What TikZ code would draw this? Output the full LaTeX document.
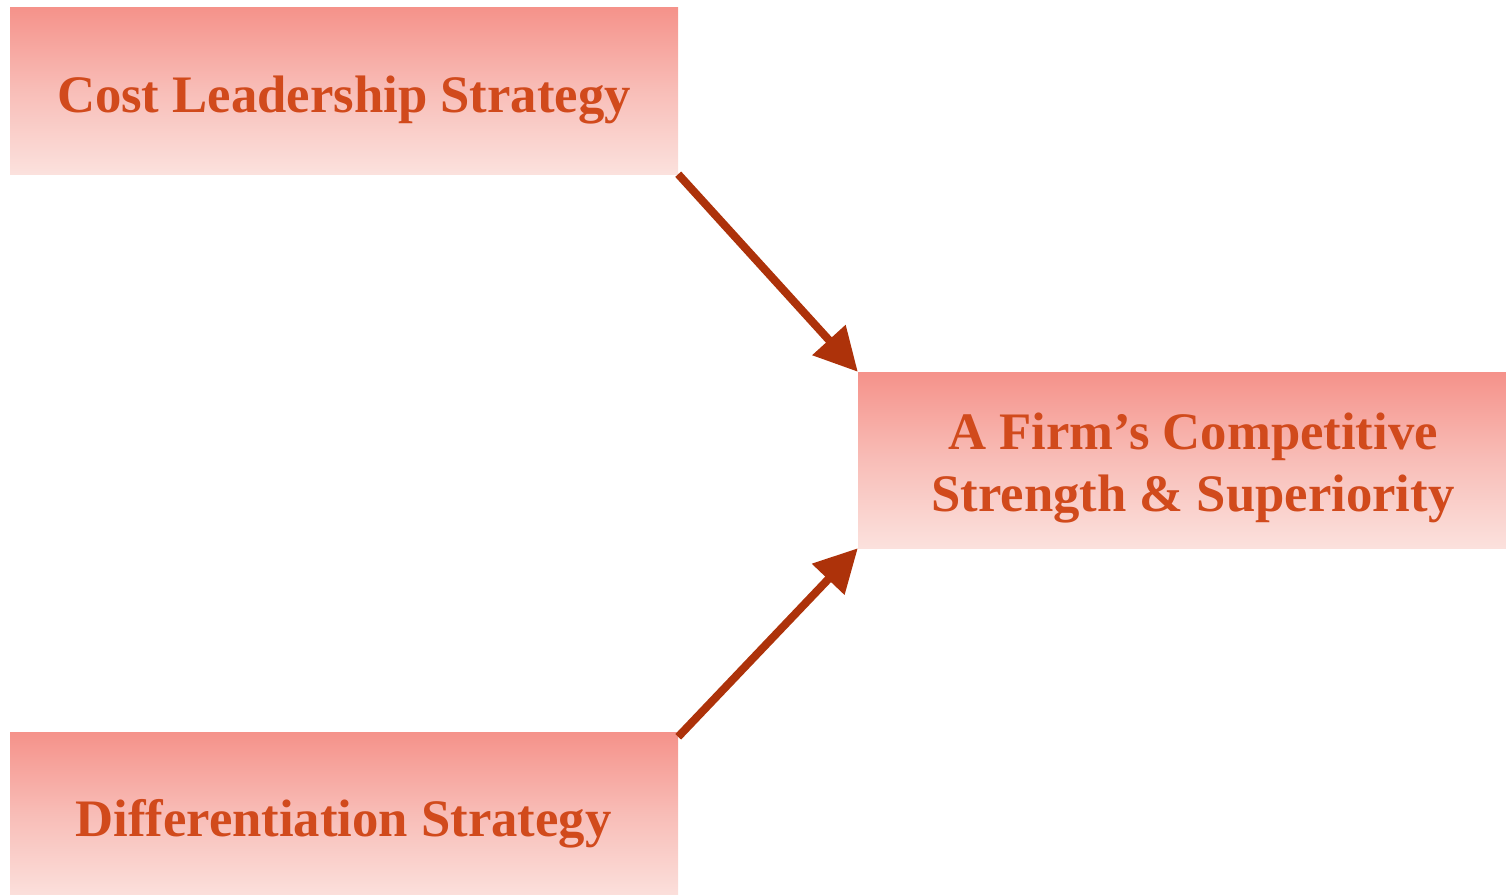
\documentclass[tikz,border=0pt]{standalone}
\usepackage{fontspec}
\setmainfont{Liberation Serif}
\usetikzlibrary{arrows.meta}
\definecolor{boxtop}{HTML}{F5928A}
\definecolor{boxbot}{HTML}{FBE1DD}
\definecolor{labeltext}{HTML}{D14A1C}
\definecolor{arrowred}{HTML}{AD320A}
\begin{document}
\begin{tikzpicture}[x=1pt,y=-1pt,
  stratbox/.style={rectangle, inner sep=0pt, draw=none, top color=boxtop, bottom color=boxbot, middle color=boxtop!45!boxbot},
  boxlabel/.style={text=labeltext, font=\fontsize{52.7}{62}\selectfont\bfseries, align=center, inner sep=0pt},
  flow/.style={draw=arrowred, line width=8pt, -{Triangle[length=43pt,width=43pt]}}]
\useasboundingbox (0,0) rectangle (1506,894);
\clip (0,0) rectangle (1506,894);

% strategy boxes
\node[stratbox, minimum width=668pt, minimum height=167pt] (cost) at (344,90.5) {};
\node[stratbox, minimum width=668pt, minimum height=167pt] (diff) at (344,815.5) {};
\node[stratbox, minimum width=670pt, minimum height=176pt] (firm) at (1193,460) {};

% box texts
\node[boxlabel, anchor=base] (costtext) at (344,112) {Cost Leadership Strategy};
\node[boxlabel, anchor=base] (difftext) at (343.5,836) {Differentiation Strategy};
\node[boxlabel, anchor=center] (firmtext) at (1193,468.5) {A Firm’s Competitive\\Strength \& Superiority};

% connectors
\draw[flow] (cost.south east) -- (firm.north west);
\draw[flow] ([yshift=-5pt]diff.north east) -- (firm.south west);
\end{tikzpicture}
\end{document}
